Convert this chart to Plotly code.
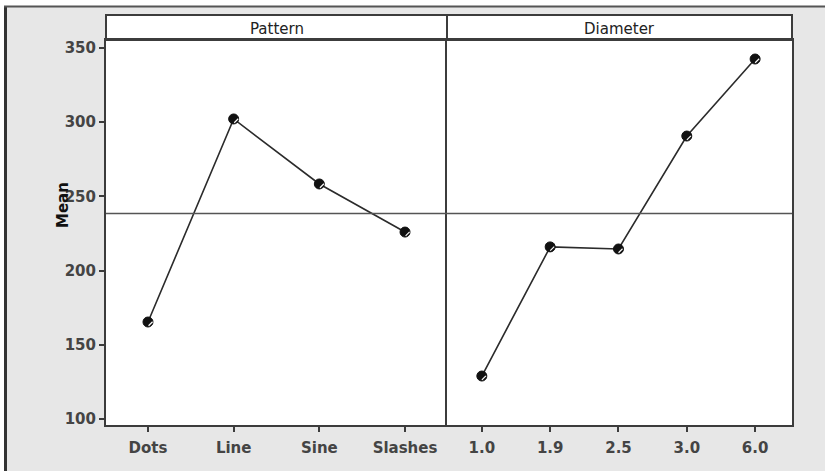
import plotly.graph_objects as go
from plotly.subplots import make_subplots

# Main-effects means for each factor
pattern_levels = ["Dots", "Line", "Sine", "Slashes"]
pattern_means = [165.4, 302.2, 258.4, 226.0]

diameter_levels = ["1.0", "1.9", "2.5", "3.0", "6.0"]
diameter_means = [129.0, 216.0, 214.6, 290.7, 342.6]

grand_mean = 238.5
y_ticks = [100, 150, 200, 250, 300, 350]
panel_titles = ["Pattern", "Diameter"]

W, H = 825, 471
px_x = lambda v: v / W
px_y = lambda v: 1 - v / H

fig = make_subplots(rows=1, cols=2, shared_yaxes=True, horizontal_spacing=0)

line_col = "#2b2b2b"
frame_col = "#3c3c3c"
tick_font = dict(family="DejaVu Sans", size=15, color="#444444", weight="bold")

for col, (cats, vals) in enumerate([(pattern_levels, pattern_means),
                                    (diameter_levels, diameter_means)], start=1):
    fig.add_trace(go.Scatter(
        x=list(range(len(cats))), y=vals, mode="lines+markers",
        line=dict(color=line_col, width=1.6),
        marker=dict(symbol="circle", size=10, color="#111111",
                    line=dict(color="#111111", width=1)),
        showlegend=False, hoverinfo="skip"), row=1, col=col)
    # small highlight inside each marker
    fig.add_trace(go.Scatter(
        x=[i + 0.03 for i in range(len(cats))], y=[v - 1.2 for v in vals],
        mode="markers",
        marker=dict(symbol="line-ne", size=4, color="white",
                    line=dict(color="white", width=1.2)),
        showlegend=False, hoverinfo="skip"), row=1, col=col)

common_x = dict(showgrid=False, zeroline=False, showline=True, mirror=True,
                linecolor=frame_col, linewidth=2, ticks="outside", ticklen=5,
                tickwidth=2, tickcolor=frame_col, tickfont=tick_font,
                ticklabelstandoff=3, automargin=False)

y_dom = [px_y(425), px_y(40)]

fig.update_layout(
    width=W, height=H, margin=dict(l=0, r=0, t=0, b=0),
    paper_bgcolor="#e7e7e7", plot_bgcolor="white",
    xaxis=dict(domain=[px_x(106), px_x(447)], range=[-0.49, 3.49],
               tickvals=list(range(len(pattern_levels))),
               ticktext=pattern_levels, anchor="y", **common_x),
    xaxis2=dict(domain=[px_x(447), px_x(792)], range=[-0.51, 4.54],
                tickvals=list(range(len(diameter_levels))),
                ticktext=diameter_levels, anchor="y2", **common_x),
    yaxis=dict(domain=y_dom, range=[96, 355.4], anchor="x",
               tickvals=y_ticks, showgrid=False, zeroline=False,
               showline=True, mirror=False, linecolor=frame_col, linewidth=2,
               ticks="outside", ticklen=5, tickwidth=2, tickcolor=frame_col,
               tickfont=tick_font, automargin=False),
    yaxis2=dict(domain=y_dom, matches="y", anchor="x2", showgrid=False,
                zeroline=False, showline=True, mirror=True,
                linecolor=frame_col, linewidth=2,
                showticklabels=False, ticks="", automargin=False),
)

shapes = []
# grand mean reference line in each panel
for xr in ["x domain", "x2 domain"]:
    shapes.append(dict(type="line", xref=xr, yref="y", x0=0, x1=1,
                       y0=grand_mean, y1=grand_mean,
                       line=dict(color="#555555", width=1.6)))
# strip header boxes
for x0, x1 in [(106, 447), (447, 792)]:
    shapes.append(dict(type="rect", xref="paper", yref="paper",
                       x0=px_x(x0), x1=px_x(x1), y0=px_y(40), y1=px_y(15),
                       fillcolor="white", line=dict(color=frame_col, width=2),
                       layer="below"))
# outer window frame
shapes.append(dict(type="rect", xref="paper", yref="paper", x0=0, x1=1,
                   y0=px_y(6), y1=1, fillcolor="white", line=dict(width=0),
                   layer="below"))
shapes.append(dict(type="rect", xref="paper", yref="paper", x0=0, x1=px_x(4),
                   y0=0, y1=1, fillcolor="white", line=dict(width=0),
                   layer="below"))
shapes.append(dict(type="line", xref="paper", yref="paper",
                   x0=px_x(5.5), x1=px_x(5.5), y0=0, y1=px_y(6),
                   line=dict(color="#333333", width=3)))
shapes.append(dict(type="line", xref="paper", yref="paper",
                   x0=px_x(4), x1=1, y0=px_y(6.5), y1=px_y(6.5),
                   line=dict(color="#555555", width=2)))
fig.update_layout(shapes=shapes)

annotations = []
for title, (x0, x1) in zip(panel_titles, [(106, 447), (447, 792)]):
    annotations.append(dict(text=title, xref="paper", yref="paper",
                            x=px_x((x0 + x1) / 2), y=px_y(29), showarrow=False,
                            xanchor="center", yanchor="middle",
                            font=dict(family="DejaVu Sans", size=15,
                                      color="#222222")))
annotations.append(dict(text="Mean", xref="paper", yref="paper",
                        x=px_x(63), y=px_y(205), showarrow=False, textangle=-90,
                        xanchor="center", yanchor="middle",
                        font=dict(family="DejaVu Sans", size=15,
                                  color="#111111", weight="bold")))
fig.update_layout(annotations=annotations)

fig.write_html("out.html")
